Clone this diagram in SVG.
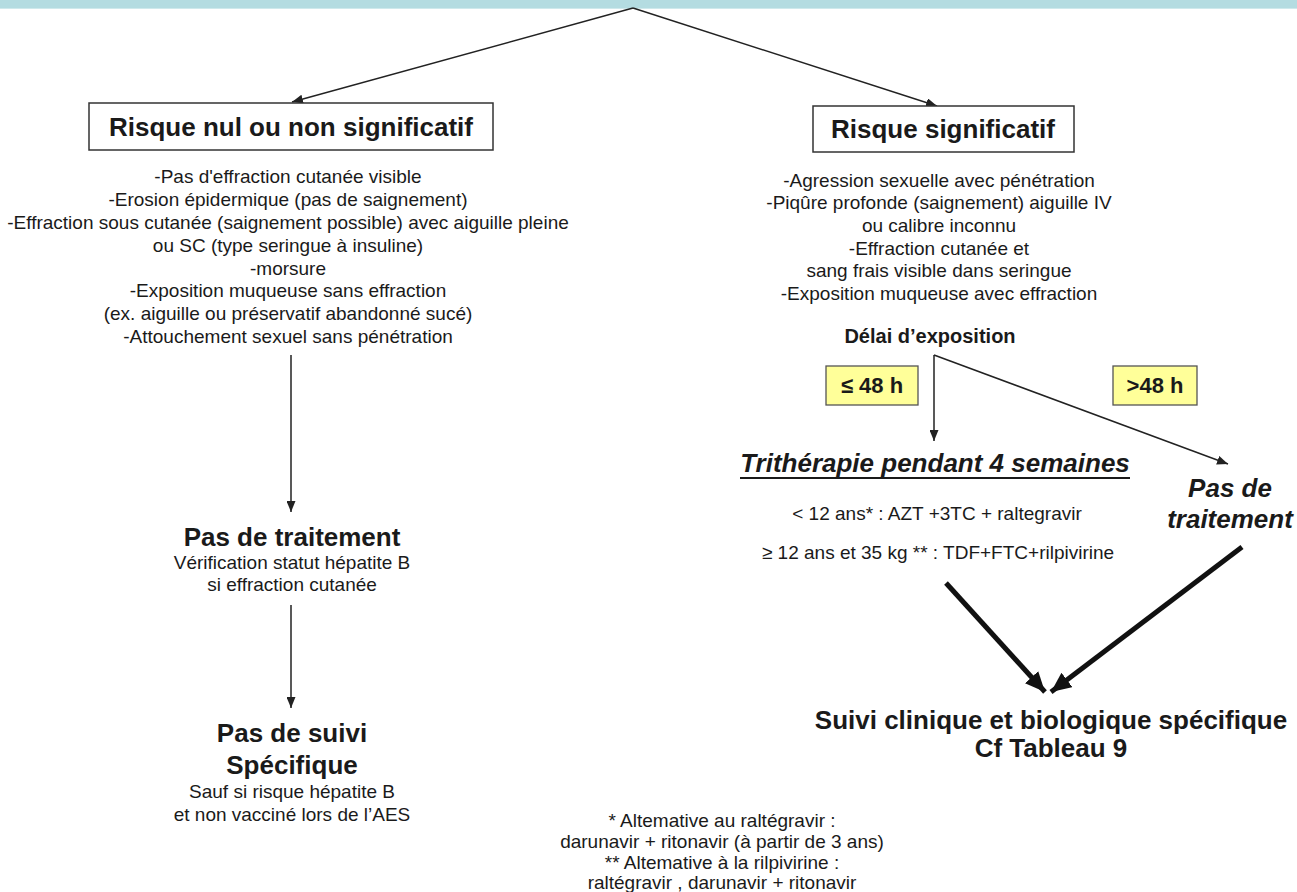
<svg xmlns="http://www.w3.org/2000/svg" width="1297" height="892" viewBox="0 0 1297 892">
<defs>
<style>
text{font-family:"Liberation Sans",Arial,sans-serif;fill:#1a1a1a;text-anchor:middle}
.h{font-size:26px;font-weight:bold}
.b{font-size:19px}
.hi{font-size:26px;font-weight:bold;font-style:italic}
.y{font-size:22px;font-weight:bold}
.box{fill:#fff;stroke:#333;stroke-width:1.5}
.ybox{fill:#ffff99;stroke:#555;stroke-width:1.3}
.c{stroke:#222;stroke-width:1.5;fill:none}
.t{stroke:#111;stroke-width:5;fill:none}
</style>
<marker id="a" markerUnits="userSpaceOnUse" markerWidth="11" markerHeight="9" refX="11" refY="4.5" orient="auto"><path d="M0,0 L11,4.5 L0,9 z" fill="#222"/></marker>
<marker id="A" markerUnits="userSpaceOnUse" markerWidth="20" markerHeight="18" refX="20" refY="9" orient="auto"><path d="M0,0 L20,9 L0,18 z" fill="#111"/></marker>
</defs>
<rect x="0" y="0" width="1297" height="9" fill="#b4dce1"/>
<line x1="0" y1="8.5" x2="1297" y2="8.5" stroke="#cfe9ec" stroke-width="1"/>
<g id="connectors">
<line class="c" x1="633" y1="8" x2="292" y2="102" marker-end="url(#a)"/>
<line class="c" x1="633" y1="8" x2="937" y2="106" marker-end="url(#a)"/>
<line class="c" x1="291" y1="355" x2="291" y2="512" marker-end="url(#a)"/>
<line class="c" x1="291" y1="605" x2="291" y2="708" marker-end="url(#a)"/>
<line class="c" x1="934" y1="355" x2="934" y2="441" marker-end="url(#a)"/>
<line class="c" x1="934" y1="355" x2="1228" y2="464" marker-end="url(#a)"/>
<line class="t" x1="946" y1="583" x2="1045" y2="692" marker-end="url(#A)"/>
<line class="t" x1="1242" y1="547" x2="1051" y2="692" marker-end="url(#A)"/>
</g>
<g id="risque-nul">
<rect class="box" x="89" y="103" width="404" height="47"/>
<text class="h" x="291" y="136">Risque nul ou non significatif</text>
</g>
<g id="risque-nul-details">
<text class="b" x="288" y="183">-Pas d'effraction cutanée visible</text>
<text class="b" x="288" y="206">-Erosion épidermique (pas de saignement)</text>
<text class="b" x="288" y="229">-Effraction sous cutanée (saignement possible) avec aiguille pleine</text>
<text class="b" x="288" y="252">ou  SC (type seringue à insuline)</text>
<text class="b" x="288" y="275">-morsure</text>
<text class="b" x="288" y="297">-Exposition muqueuse sans effraction</text>
<text class="b" x="288" y="320">(ex. aiguille ou préservatif abandonné sucé)</text>
<text class="b" x="288" y="343">-Attouchement sexuel sans pénétration</text>
</g>
<g id="risque-significatif">
<rect class="box" x="813" y="106" width="261" height="46"/>
<text class="h" x="943" y="138">Risque significatif</text>
</g>
<g id="risque-significatif-details">
<text class="b" x="939" y="187">-Agression sexuelle avec pénétration</text>
<text class="b" x="939" y="209">-Piqûre profonde (saignement)  aiguille IV</text>
<text class="b" x="939" y="232">ou calibre inconnu</text>
<text class="b" x="939" y="255">-Effraction cutanée  et</text>
<text class="b" x="939" y="277">sang frais visible dans seringue</text>
<text class="b" x="939" y="300">-Exposition muqueuse avec effraction</text>
</g>
<g id="delai">
<text style="font-size:20px;font-weight:bold" x="930" y="343">Délai d’exposition</text>
</g>
<g id="le48">
<rect class="ybox" x="826" y="366" width="92" height="39"/>
<text class="y" x="872" y="393">≤ 48 h</text>
</g>
<g id="gt48">
<rect class="ybox" x="1113" y="366" width="84" height="39"/>
<text class="y" x="1155" y="393">&gt;48 h</text>
</g>
<g id="pas-de-traitement-gauche">
<text class="h" x="292" y="546">Pas de traitement</text>
<text class="b" x="292" y="569">Vérification statut hépatite B</text>
<text class="b" x="292" y="591">si effraction cutanée</text>
</g>
<g id="pas-de-suivi">
<text class="h" x="292" y="742">Pas de suivi</text>
<text class="h" x="292" y="774">Spécifique</text>
<text class="b" x="292" y="798">Sauf si risque hépatite B</text>
<text class="b" x="292" y="821">et non vacciné lors de l’AES</text>
</g>
<g id="tritherapie">
<text class="hi" x="935" y="472">Trithérapie pendant 4 semaines</text>
<line x1="740" y1="478" x2="1130" y2="478" stroke="#1a1a1a" stroke-width="2"/>
<text class="b" x="937" y="520">&lt; 12 ans* : AZT  +3TC + raltegravir</text>
<text class="b" x="938" y="559">≥ 12 ans et 35 kg ** : TDF+FTC+rilpivirine</text>
</g>
<g id="pas-de-traitement-droite">
<text class="hi" x="1230" y="497">Pas de</text>
<text class="hi" x="1230" y="528">traitement</text>
</g>
<g id="suivi-specifique">
<text class="h" x="1051" y="729">Suivi clinique et biologique spécifique</text>
<text class="h" x="1051" y="757">Cf Tableau 9</text>
</g>
<g id="footnote">
<text class="b" x="722" y="827">* Altemative au raltégravir :</text>
<text class="b" x="722" y="848">darunavir + ritonavir (à partir de 3 ans)</text>
<text class="b" x="722" y="869">** Altemative à la rilpivirine :</text>
<text class="b" x="722" y="889">raltégravir , darunavir + ritonavir</text>
</g>
</svg>
